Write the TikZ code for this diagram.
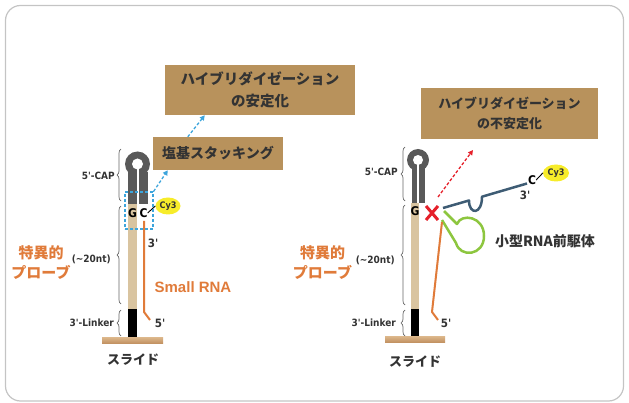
\documentclass[tikz,border=0pt]{standalone}
\usepackage{fontspec}
\setmainfont{Noto Sans CJK JP}
\newfontfamily\narrowsans{DejaVu Sans Condensed}
\newfontfamily\arialsans{Liberation Sans}
\usetikzlibrary{arrows.meta,decorations.pathreplacing,shapes.geometric}

\definecolor{boxtan}{HTML}{B8925C}
\definecolor{stemtan}{HTML}{D9C4A0}
\definecolor{capgrey}{HTML}{595959}
\definecolor{rnaorange}{HTML}{E07B3A}
\definecolor{stackblue}{HTML}{3DA5DC}
\definecolor{precgreen}{HTML}{8DC63F}
\definecolor{slateline}{HTML}{3E5C74}
\definecolor{slidetop}{HTML}{DDB88C}
\definecolor{slidebot}{HTML}{C39363}
\definecolor{framegrey}{HTML}{C4C4C4}
\definecolor{dyeyellow}{HTML}{F7EC2A}
\definecolor{labeldark}{HTML}{333333}
\definecolor{crossred}{HTML}{E5202A}

\begin{document}
\begin{tikzpicture}[x=1pt,y=-1pt,
  titlebox/.style={fill=boxtan, text=labeldark, align=center, inner sep=0pt},
  lbl/.style={text=labeldark, inner sep=0pt, font=\narrowsans\bfseries\fontsize{10}{12}\selectfont},
  base/.style={text=black, inner sep=0pt, font=\narrowsans\bfseries\fontsize{12}{13}\selectfont},
  endlbl/.style={text=labeldark, inner sep=0pt, font=\narrowsans\bfseries\fontsize{11.5}{12}\selectfont},
  orangelbl/.style={text=rnaorange, inner sep=0pt, align=center, font=\bfseries\fontsize{15}{20}\selectfont},
  slidelbl/.style={text=labeldark, inner sep=0pt, font=\bfseries\fontsize{13}{15}\selectfont},
  dyedot/.style={ellipse, fill=dyeyellow, inner sep=0pt, minimum width=25pt, minimum height=17pt,
    font=\narrowsans\bfseries\fontsize{9}{10}\selectfont, text=labeldark},
  bracket/.style={decorate, decoration={brace, amplitude=4pt}, draw=gray!80!black, line width=0.7pt},
  rna/.style={draw=rnaorange, line width=2pt, line join=round},
  bluearr/.style={draw=stackblue, line width=1.3pt, dash pattern=on 3pt off 2pt,
    -{Triangle[length=5pt,width=5pt]}},
  redarr/.style={draw=crossred, line width=1.3pt, dash pattern=on 3pt off 2pt,
    -{Triangle[length=5pt,width=5pt]}}
]
\useasboundingbox (0,0) rectangle (629,403);
\draw[framegrey, line width=1.2pt, rounded corners=15pt] (5.5,5.5) rectangle (623.5,401);

% ---------------- left panel: stabilised hybridisation ----------------
\node[titlebox, minimum width=190pt, minimum height=50pt,
  font=\bfseries\fontsize{14.5}{22}\selectfont] (stabL) at (260,90)
  {ハイブリダイゼーション\\の安定化};
\node[titlebox, minimum width=130pt, minimum height=33pt,
  font=\bfseries\fontsize{14}{16}\selectfont] (stack) at (218,153.5) {塩基スタッキング};

% 5'-CAP hairpin
\fill[capgrey] (137.5,164) circle (12.5);
\fill[capgrey] (128,172) rectangle (148,204);
\fill[white] (137.5,164) circle (5.5);
\fill[white] (136.9,166) rectangle (138.5,204);
% probe stem, linker and slide
\fill[stemtan] (127.5,204) rectangle (137,309);
\fill[black] (127.5,309) rectangle (137,337);
\shade[top color=slidetop, bottom color=slidebot] (102,337) rectangle (163,343);
\node[slidelbl] (slideL) at (133,360) {スライド};

\node[base] (gL) at (132.5,213) {G};
\node[base] (cL) at (143.5,213) {C};
\node[dyedot] (dyeL) at (168,206) {Cy3};
\draw[black, line width=0.9pt] (cL.east) -- (dyeL.west);

% small RNA strand
\coordinate (rnaLtop) at (144,221);
\coordinate (rnaLknee) at (144,312);
\coordinate (rnaLend) at (150,320);
\draw[rna] (rnaLtop) -- (rnaLknee) -- (rnaLend);
\node[endlbl] (threeL) at (153,243) {3'};
\node[endlbl] (fiveL) at (160,323) {5'};
\node[text=rnaorange, inner sep=0pt, font=\arialsans\bfseries\fontsize{15}{17}\selectfont] (srna) at (193,287) {Small RNA};

% base-stacking highlight and arrows
\node[draw=stackblue, line width=1.2pt, dash pattern=on 3pt off 2pt, minimum width=28pt,
  minimum height=37pt, inner sep=0pt] (stackbox) at (139,210.5) {};
\draw[bluearr] (stackbox.north east) -- ([xshift=15pt]stack.south west);
\draw[bluearr] ([xshift=35pt]stack.north west) -- ([xshift=40pt]stabL.south west);

% braces and labels
\draw[bracket] (121,201) -- (121,149);
\draw[bracket] (121,304) -- (121,206);
\draw[bracket] (121,336) -- (121,310);
\node[lbl, anchor=east] (capL) at (115,176) {5'-CAP};
\node[lbl, anchor=east, font=\narrowsans\bfseries\fontsize{10}{12}\selectfont] (ntL) at (111,259) {(\textasciitilde 20nt)};
\node[lbl, anchor=east] (linkL) at (114,323) {3'-Linker};
\node[orangelbl] (probeL) at (41,263) {特異的\\プローブ};

% ---------------- right panel: destabilised hybridisation ----------------
\node[titlebox, minimum width=177pt, minimum height=51pt,
  font=\bfseries\fontsize{13}{20}\selectfont] (stabR) at (509.5,113.5)
  {ハイブリダイゼーション\\の不安定化};

\fill[capgrey] (418,160) circle (11);
\fill[capgrey] (411.5,168) rectangle (424.5,203);
\fill[white] (418,160) circle (5);
\fill[white] (417.3,162) rectangle (418.7,203);
\fill[stemtan] (411,203) rectangle (419,309);
\fill[black] (411,309) rectangle (419,336);
\shade[top color=slidetop, bottom color=slidebot] (385,336) rectangle (445,342);
\node[slidelbl] (slideR) at (415,362) {スライド};

\node[base] (gR) at (415,211) {G};

% precursor: slate strand with dye, green hairpin loop
\coordinate (xmark) at (432,213);
\coordinate (slateA) at (443,208);
\coordinate (slateB) at (469,200.5);
\coordinate (slateC) at (482,196.7);
\coordinate (slateD) at (527,183.5);
\draw[slateline, line width=2.5pt, line join=round] (slateA) -- (slateB)
  .. controls (469,215) and (482,215) .. (slateC) -- (slateD);
\node[base] (cR) at (532,180) {C};
\node[endlbl] (threeR) at (525,195) {3'};
\node[dyedot, minimum width=26pt] (dyeR) at (556,173) {Cy3};
\draw[black, line width=0.9pt] (cR.east) -- (dyeR.west);

\coordinate (greenA) at (444,211);
\coordinate (greenB) at (457,224);
\coordinate (greenC) at (456,243);
\coordinate (greenD) at (442,220);
\draw[precgreen, line width=2.5pt, line join=round] (greenA) -- (greenB)
  .. controls (461,213) and (484,216) .. (484,236)
  .. controls (484,256) and (460,258) .. (greenC) -- (greenD);

\coordinate (rnaRtop) at (442,222);
\coordinate (rnaRknee) at (432,312);
\coordinate (rnaRend) at (438,320);
\draw[rna] (rnaRtop) -- (rnaRknee) -- (rnaRend);
\node[endlbl] (fiveR) at (446,323) {5'};

\draw[crossred, line width=3pt] (xmark) +(-6,-7) -- +(6,7);
\draw[crossred, line width=3pt] (xmark) +(6,-7) -- +(-6,7);
\coordinate (redtip) at (473,150);
\draw[redarr] (438,197) -- (redtip);

\node[text=labeldark, inner sep=0pt, font=\bfseries\fontsize{14}{16}\selectfont] (precursor) at (545,241) {小型RNA前駆体};

\draw[bracket] (405,201) -- (405,147);
\draw[bracket] (405,305) -- (405,205);
\draw[bracket] (405,336) -- (405,310);
\node[lbl, anchor=east] (capR) at (398,172) {5'-CAP};
\node[lbl, anchor=east] (ntR) at (395,260) {(\textasciitilde 20nt)};
\node[lbl, anchor=east] (linkR) at (396,323) {3'-Linker};
\node[orangelbl] (probeR) at (322.5,262.5) {特異的\\プローブ};
\end{tikzpicture}
\end{document}
